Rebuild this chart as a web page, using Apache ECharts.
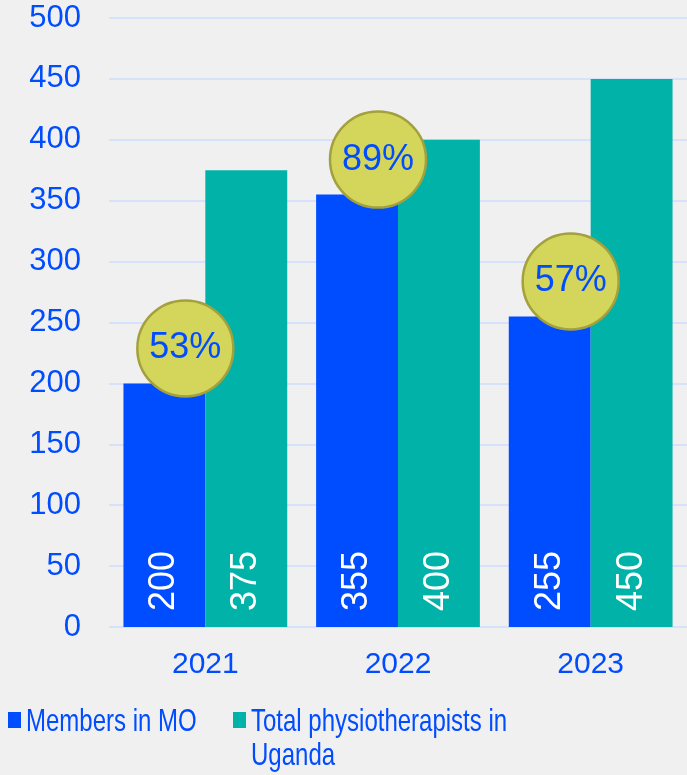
<!DOCTYPE html>
<html>
<head>
<meta charset="utf-8">
<script src="https://cdn.jsdelivr.net/npm/echarts@6/dist/echarts.min.js"></script>
<style>
  html, body { margin: 0; padding: 0; background: #f0f0f0; }
  #main { width: 687px; height: 775px; }
</style>
</head>
<body>
<div id="main"></div>
<script>
// data
var years = ['2021', '2022', '2023'];
var members = [200, 355, 255];
var totals = [375, 400, 450];
var shares = ['53%', '89%', '57%'];
var seriesNames = ['Members in MO', 'Total physiotherapists in Uganda'];

var blue = '#004cff';
var teal = '#00b2a8';
var font = 'Liberation Sans, Arial, sans-serif';

var myChart = echarts.init(document.getElementById('main'));

var barLabel = {
  show: true,
  position: 'insideBottom',
  rotate: 90,
  align: 'left',
  verticalAlign: 'middle',
  distance: 16,
  color: '#fff',
  fontSize: 36,
  fontFamily: font
};

// legend drawn by hand: the original uses a condensed face, so squeeze the text
var legendItem = function (x, color, text) {
  return {
    type: 'group',
    left: x,
    top: 705,
    children: [
      { type: 'rect', shape: { x: 0, y: 7, width: 13, height: 16 }, style: { fill: color } },
      {
        type: 'text',
        x: 18, y: 0,
        scaleX: 0.75,
        style: { text: text, fill: blue, font: '32px ' + font, lineHeight: 34, verticalAlign: 'top' }
      }
    ]
  };
};

var option = {
  backgroundColor: '#f0f0f0',
  animation: false,
  grid: { left: 109, right: 0, top: 18, bottom: 148 },
  graphic: [
    legendItem(8, blue, seriesNames[0]),
    legendItem(233, teal, 'Total physiotherapists in\nUganda')
  ],
  xAxis: {
    type: 'category',
    data: years,
    axisLine: { show: false },
    axisTick: { show: false },
    axisLabel: { color: blue, fontSize: 30, fontFamily: font, margin: 23 }
  },
  yAxis: {
    type: 'value',
    min: 0, max: 500, interval: 50,
    axisLabel: { color: blue, fontSize: 31, fontFamily: font, margin: 28 },
    splitLine: { lineStyle: { color: '#d6e1fb', width: 2 } }
  },
  series: [
    {
      name: seriesNames[0],
      type: 'bar',
      data: members,
      barGap: 0,
      barCategoryGap: '15%',
      itemStyle: { color: blue },
      label: barLabel
    },
    {
      name: seriesNames[1],
      type: 'bar',
      data: totals,
      itemStyle: { color: teal },
      label: barLabel
    },
    {
      name: 'share',
      type: 'scatter',
      data: members,
      symbol: 'circle',
      symbolSize: 96,
      symbolOffset: [-20, -35],
      z: 5,
      itemStyle: { color: '#d3d65a', borderColor: '#a3a03e', borderWidth: 2.5, opacity: 1 },
      label: {
        show: true,
        position: 'inside',
        color: blue,
        fontSize: 36,
        fontFamily: font,
        formatter: function (p) { return shares[p.dataIndex]; }
      }
    }
  ]
};

myChart.setOption(option);
</script>
</body>
</html>
